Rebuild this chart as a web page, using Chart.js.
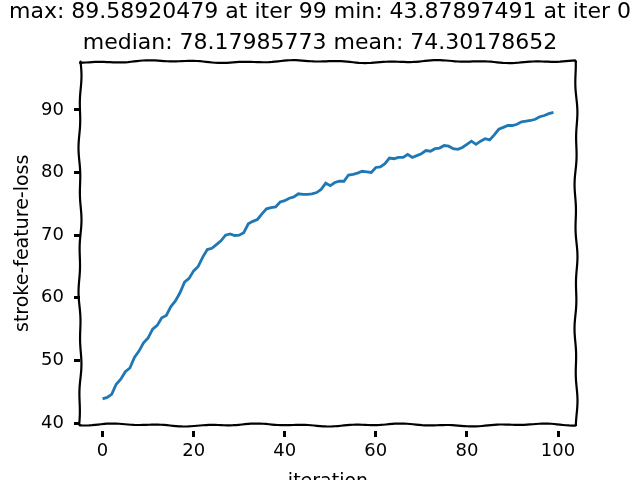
<!DOCTYPE html>
<html>
<head>
<meta charset="utf-8">
<script src="https://cdn.jsdelivr.net/npm/chart.js@4.4.1/dist/chart.umd.min.js"></script>
<style>
html, body { margin: 0; padding: 0; background: #fff; }
#wrap { width: 640px; height: 480px; }
</style>
</head>
<body>
<div id="wrap"><canvas id="lossChart"></canvas></div>
<script>
const titleLines = [
	'max: 89.58920479 at iter 99 min: 43.87897491 at iter 0',
	'median: 78.17985773 mean: 74.30178652'
];
// one value per iteration, 0..99
const loss = [
	43.88, 44.1, 44.6, 46.2, 47.0, 48.2, 48.8, 50.5, 51.5, 52.8,
	53.6, 55.0, 55.6, 56.8, 57.2, 58.6, 59.5, 60.8, 62.5, 63.1,
	64.3, 65.0, 66.5, 67.7, 67.9, 68.5, 69.1, 70.0, 70.2, 69.95,
	70.0, 70.4, 71.8, 72.2, 72.5, 73.4, 74.2, 74.4, 74.5, 75.3,
	75.5, 75.9, 76.1, 76.6, 76.5, 76.5, 76.6, 76.8, 77.3, 78.3,
	77.9, 78.4, 78.6, 78.6, 79.6, 79.7, 79.9, 80.2, 80.1, 80.0,
	80.8, 80.9, 81.4, 82.3, 82.2, 82.4, 82.4, 82.9, 82.4, 82.7,
	83.0, 83.5, 83.4, 83.8, 83.9, 84.3, 84.2, 83.8, 83.7, 84.0,
	84.5, 85.0, 84.5, 85.0, 85.4, 85.2, 86.0, 86.9, 87.2, 87.5,
	87.5, 87.7, 88.1, 88.2, 88.3, 88.5, 88.9, 89.1, 89.4, 89.59
];
const xTicks = [0, 20, 40, 60, 80, 100];
const yTicks = [40, 50, 60, 70, 80, 90];
const xLabel = 'iteration';
const yLabel = 'stroke-feature-loss';

const FONT = "'DejaVu Sans', sans-serif";

// hand drawn looking frame round the plot area
function wobbleLine(ctx, x0, y0, x1, y1, seed) {
	const len = Math.hypot(x1 - x0, y1 - y0);
	const nx = -(y1 - y0) / len, ny = (x1 - x0) / len;
	ctx.beginPath();
	for (let t = 0; t <= len; t += 3) {
		const f = t / len;
		const w = 1.5 * (Math.sin(t * 0.045 + seed) * 0.6 + Math.sin(t * 0.13 + seed * 2.3) * 0.4);
		const px = x0 + (x1 - x0) * f + nx * w;
		const py = y0 + (y1 - y0) * f + ny * w;
		if (t === 0) ctx.moveTo(px, py); else ctx.lineTo(px, py);
	}
	ctx.lineTo(x1, y1);
	ctx.stroke();
}

const wobbleFrame = {
	id: 'wobbleFrame',
	afterDatasetsDraw(chart) {
		const { ctx, chartArea: a } = chart;
		ctx.save();
		ctx.strokeStyle = '#000';
		ctx.lineWidth = 2.2;
		ctx.lineCap = 'round';
		wobbleLine(ctx, a.left, a.top, a.right, a.top, 1);
		wobbleLine(ctx, a.right, a.top, a.right, a.bottom, 2);
		wobbleLine(ctx, a.left, a.bottom, a.right, a.bottom, 3);
		wobbleLine(ctx, a.left, a.top, a.left, a.bottom, 4);
		ctx.restore();
	}
};

const tickGrid = {
	drawOnChartArea: false,
	drawTicks: true,
	tickLength: 12,
	tickWidth: 3,
	tickColor: '#000',
	tickBorderDash: [0, 6, 6, 40]
};

new Chart('lossChart', {
	type: 'line',
	data: {
		datasets: [{
			data: loss.map((v, i) => ({ x: i, y: v })),
			borderColor: '#1f77b4',
			borderWidth: 2.8,
			pointRadius: 0,
			tension: 0,
			fill: false
		}]
	},
	options: {
		responsive: true,
		maintainAspectRatio: false,
		animation: false,
		layout: { padding: 0 },
		plugins: {
			legend: { display: false },
			tooltip: { enabled: false },
			title: {
				display: true,
				text: titleLines,
				color: '#000',
				font: { family: FONT, size: 22, weight: 'normal', lineHeight: 1.4 },
				padding: { top: -3, bottom: 3 }
			}
		},
		scales: {
			x: {
				type: 'linear',
				min: -4.95,
				max: 103.95,
				border: { display: false },
				grid: tickGrid,
				afterBuildTicks: (s) => { s.ticks = xTicks.map(v => ({ value: v })); },
				afterFit: (s) => { s.height = 55; },
				ticks: {
					color: '#000',
					padding: 4,
					maxRotation: 0,
					font: { family: FONT, size: 18 }
				},
				title: {
					display: true,
					text: xLabel,
					color: '#000',
					font: { family: FONT, size: 19 },
					padding: { top: 0, bottom: -13 }
				}
			},
			y: {
				min: 39.7,
				max: 97.7,
				border: { display: false },
				grid: tickGrid,
				afterBuildTicks: (s) => { s.ticks = yTicks.map(v => ({ value: v })); },
				afterFit: (s) => { s.width = 80; },
				ticks: {
					color: '#000',
					padding: 4,
					font: { family: FONT, size: 18 }
				},
				title: {
					display: true,
					text: yLabel,
					color: '#000',
					font: { family: FONT, size: 19 },
					padding: { top: 12, bottom: 0 }
				}
			},
			// empty right-hand margin so the title stays centred on the page
			spacer: {
				position: 'right',
				min: 39.7,
				max: 97.7,
				border: { display: false },
				grid: { display: false },
				ticks: { display: false },
				afterFit: (s) => { s.width = 64; }
			}
		}
	},
	plugins: [wobbleFrame]
});
</script>
</body>
</html>
